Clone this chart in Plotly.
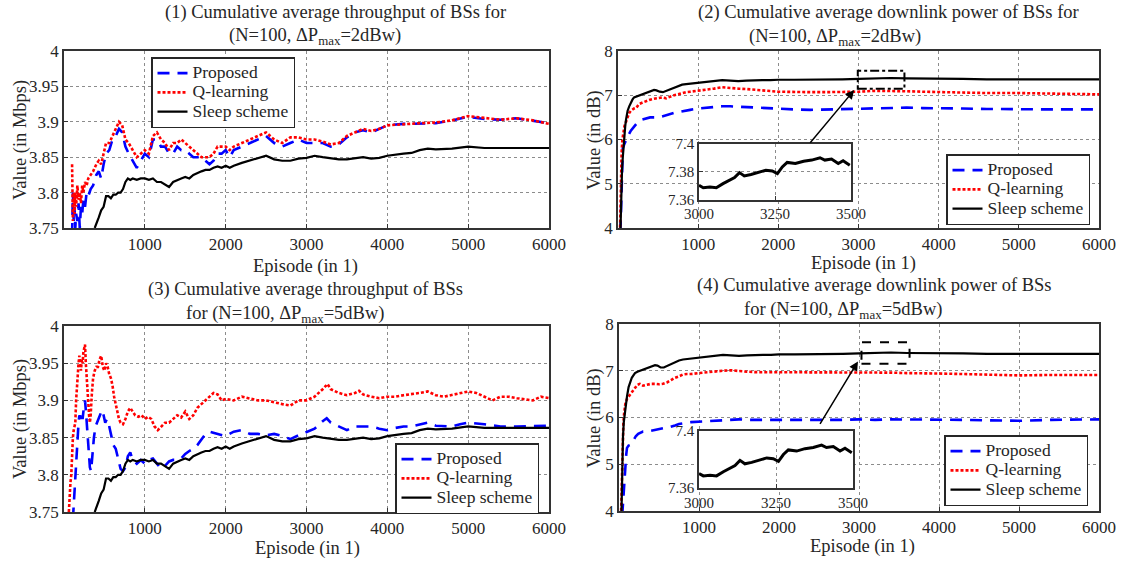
import plotly.graph_objects as go

W, H = 1127, 563

# ---------------- data ----------------
# (1) throughput, dP=2
p1_x = [100,110,120,130,140,150,165,180,195,210,225,240,260,280,300,330,360,400,430,460,490,520,560,600,640,680,720,760,800,850,900,950,1000,1050,1100,1150,1200,1250,1300,1350,1400,1450,1500,1550,1600,1650,1700,1750,1800,1850,1900,1950,2000,2050,2100,2200,2300,2400,2500,2600,2700,2800,2900,3000,3100,3200,3300,3400,3500,3600,3700,3800,3900,4000,4200,4400,4600,4800,5000,5200,5400,5600,5800,6000]
p1_prop = [3.74,3.80,3.76,3.78,3.75,3.77,3.76,3.785,3.75,3.78,3.77,3.79,3.78,3.80,3.795,3.805,3.81,3.825,3.83,3.82,3.84,3.855,3.86,3.875,3.88,3.89,3.885,3.865,3.855,3.845,3.835,3.845,3.855,3.85,3.875,3.875,3.865,3.865,3.855,3.855,3.865,3.86,3.86,3.855,3.85,3.85,3.85,3.845,3.84,3.845,3.855,3.855,3.86,3.85,3.86,3.865,3.87,3.875,3.88,3.87,3.865,3.87,3.875,3.87,3.87,3.87,3.865,3.868,3.878,3.885,3.888,3.885,3.89,3.895,3.897,3.897,3.898,3.902,3.907,3.904,3.903,3.905,3.902,3.898]
p1_qlearn = [3.84,3.76,3.80,3.77,3.80,3.78,3.81,3.79,3.80,3.785,3.81,3.80,3.815,3.81,3.82,3.825,3.83,3.84,3.845,3.84,3.855,3.87,3.87,3.88,3.89,3.90,3.895,3.875,3.87,3.86,3.85,3.855,3.86,3.855,3.88,3.885,3.875,3.87,3.86,3.87,3.87,3.875,3.87,3.865,3.86,3.855,3.85,3.85,3.85,3.855,3.865,3.865,3.865,3.86,3.865,3.87,3.875,3.88,3.885,3.875,3.87,3.878,3.878,3.875,3.875,3.872,3.868,3.87,3.88,3.885,3.89,3.887,3.89,3.895,3.897,3.898,3.899,3.902,3.908,3.905,3.903,3.905,3.902,3.897]

# sleep scheme throughput (same in (1) and (3))
sl_thr_x = [380,400,430,460,490,520,550,580,610,640,670,700,730,760,790,820,850,900,950,1000,1050,1100,1150,1200,1250,1300,1350,1400,1450,1500,1550,1600,1650,1700,1750,1800,1850,1900,1950,2000,2050,2100,2200,2300,2400,2500,2600,2700,2800,2900,3000,3100,3200,3300,3400,3500,3600,3700,3800,3900,4000,4100,4200,4300,4400,4500,4600,4800,5000,5200,5400,5600,5800,6000]
sl_thr_y = [3.75,3.755,3.765,3.775,3.78,3.795,3.795,3.792,3.797,3.797,3.80,3.80,3.805,3.815,3.82,3.818,3.82,3.818,3.82,3.82,3.818,3.82,3.815,3.815,3.812,3.808,3.815,3.818,3.82,3.822,3.82,3.825,3.828,3.83,3.832,3.832,3.835,3.837,3.835,3.838,3.835,3.838,3.842,3.845,3.848,3.852,3.847,3.845,3.845,3.848,3.849,3.852,3.85,3.848,3.847,3.847,3.848,3.85,3.848,3.849,3.852,3.854,3.855,3.856,3.86,3.862,3.861,3.862,3.865,3.863,3.863,3.863,3.863,3.863]

# (3) throughput, dP=5
p3_prop_x = [110,120,130,140,150,160,170,180,190,200,215,230,245,260,275,290,305,320,335,350,370,390,410,430,450,470,490,510,530,550,570,590,610,640,670,700,730,760,790,820,850,900,950,1000,1050,1100,1150,1200,1250,1300,1350,1400,1450,1500,1550,1600,1650,1700,1750,1800,1900,2000,2100,2200,2300,2400,2500,2600,2700,2800,2900,3000,3100,3200,3250,3300,3400,3500,3600,3700,3800,3900,4000,4100,4200,4300,4400,4500,4600,4700,4800,4900,5000,5200,5400,5600,5800,6000]
p3_prop = [3.74,3.76,3.78,3.80,3.81,3.84,3.86,3.87,3.88,3.875,3.885,3.875,3.89,3.90,3.88,3.86,3.835,3.81,3.805,3.83,3.85,3.865,3.87,3.875,3.88,3.887,3.88,3.87,3.875,3.87,3.86,3.85,3.84,3.835,3.82,3.808,3.805,3.81,3.825,3.83,3.82,3.815,3.82,3.815,3.82,3.822,3.815,3.808,3.812,3.818,3.82,3.82,3.822,3.828,3.832,3.835,3.84,3.848,3.855,3.858,3.855,3.852,3.858,3.86,3.855,3.855,3.853,3.855,3.852,3.848,3.853,3.857,3.862,3.872,3.876,3.87,3.865,3.86,3.865,3.865,3.865,3.862,3.86,3.863,3.865,3.865,3.868,3.87,3.866,3.865,3.865,3.868,3.87,3.868,3.865,3.865,3.865,3.866]
p3_q_x = [60,70,80,90,100,110,120,130,140,150,160,170,180,190,200,210,220,230,240,250,260,270,280,290,300,310,320,330,345,360,380,400,420,440,460,480,500,520,540,560,580,600,620,640,660,680,700,730,760,790,820,850,880,920,960,1000,1040,1080,1120,1160,1200,1250,1300,1350,1400,1450,1500,1550,1600,1650,1700,1750,1800,1850,1900,1950,2000,2100,2200,2300,2400,2500,2600,2700,2800,2900,3000,3100,3200,3260,3300,3400,3500,3600,3650,3700,3800,3900,4000,4100,4200,4300,4400,4500,4600,4700,4800,4900,5000,5100,5200,5300,5400,5500,5600,5700,5800,5900,6000]
p3_qlearn = [3.75,3.78,3.79,3.80,3.83,3.85,3.86,3.865,3.87,3.90,3.92,3.935,3.95,3.96,3.945,3.94,3.955,3.95,3.965,3.97,3.975,3.95,3.93,3.905,3.89,3.88,3.87,3.88,3.91,3.93,3.94,3.945,3.945,3.955,3.96,3.945,3.94,3.95,3.945,3.935,3.93,3.92,3.905,3.895,3.885,3.875,3.87,3.868,3.875,3.885,3.89,3.885,3.88,3.878,3.88,3.875,3.878,3.875,3.865,3.86,3.865,3.87,3.87,3.875,3.88,3.877,3.885,3.875,3.88,3.89,3.895,3.90,3.905,3.91,3.908,3.90,3.902,3.90,3.905,3.903,3.90,3.90,3.897,3.895,3.893,3.90,3.90,3.905,3.915,3.922,3.915,3.91,3.907,3.91,3.913,3.908,3.905,3.903,3.905,3.905,3.907,3.908,3.91,3.912,3.907,3.905,3.907,3.91,3.912,3.91,3.905,3.90,3.905,3.905,3.903,3.902,3.90,3.905,3.903]

# (2) downlink power, dP=2
p2_sl_x = [30,40,50,60,70,80,90,100,120,140,160,180,200,230,260,300,350,400,450,480,520,560,600,650,700,750,800,850,900,950,1000,1100,1200,1300,1400,1500,1600,1700,1800,1900,2000,2200,2400,2600,2800,3000,3200,3400,3600,3800,4000,4300,4600,5000,5400,5800,6000]
p2_sleep = [3.9,4.8,5.3,5.6,5.9,6.1,6.3,6.45,6.65,6.75,6.85,6.9,6.95,6.97,7.0,7.02,7.05,7.08,7.12,7.11,7.08,7.07,7.1,7.13,7.17,7.2,7.24,7.25,7.26,7.27,7.29,7.31,7.33,7.34,7.33,7.32,7.33,7.34,7.34,7.34,7.35,7.35,7.35,7.35,7.36,7.37,7.38,7.39,7.38,7.38,7.37,7.37,7.36,7.36,7.36,7.36,7.36]
p2_q_x = [25,35,45,55,65,80,100,120,140,160,180,200,230,260,300,350,400,450,500,550,600,650,700,750,800,850,900,1000,1100,1200,1300,1400,1500,1600,1700,1800,2000,2200,2400,2600,2800,3000,3200,3400,3600,3800,4000,4300,4600,5000,5400,5800,6000]
p2_qlearn = [3.9,5.0,5.7,6.0,6.15,6.3,6.4,6.5,6.6,6.65,6.68,6.7,6.72,6.8,6.83,6.87,6.9,6.92,6.93,6.95,6.93,6.97,7.0,7.02,7.05,7.07,7.08,7.1,7.12,7.15,7.18,7.16,7.15,7.14,7.13,7.11,7.08,7.07,7.07,7.07,7.07,7.08,7.1,7.1,7.09,7.08,7.07,7.06,7.05,7.05,7.04,7.03,7.02]
p2_p_x = [30,40,50,60,80,100,130,160,200,250,300,350,400,450,500,550,600,650,700,750,800,850,900,1000,1100,1200,1300,1400,1500,1600,1800,2000,2200,2400,2600,2800,3000,3200,3400,3600,3800,4000,4300,4600,5000,5400,5800,6000]
p2_prop = [3.9,4.8,5.5,5.8,5.9,6.0,6.1,6.2,6.3,6.4,6.45,6.48,6.5,6.5,6.5,6.52,6.55,6.58,6.6,6.62,6.64,6.65,6.67,6.7,6.72,6.74,6.75,6.75,6.74,6.73,6.71,6.7,6.68,6.67,6.68,6.69,6.7,6.71,6.72,6.72,6.71,6.7,6.7,6.69,6.68,6.68,6.68,6.68]

# (4) downlink power, dP=5
p4_sl_x = [30,40,50,60,70,80,90,100,120,140,160,180,200,230,260,300,350,400,450,480,520,560,600,650,700,750,800,850,900,950,1000,1100,1200,1300,1400,1500,1600,1700,1800,1900,2000,2200,2400,2600,2800,3000,3200,3400,3600,3800,4000,4300,4600,5000,5400,5800,6000]
p4_sleep = [3.9,5.0,5.6,5.9,6.05,6.15,6.3,6.45,6.65,6.75,6.85,6.9,6.95,6.98,7.0,7.03,7.06,7.08,7.12,7.11,7.07,7.07,7.1,7.14,7.18,7.22,7.24,7.25,7.26,7.27,7.29,7.31,7.33,7.34,7.33,7.32,7.33,7.34,7.34,7.34,7.35,7.35,7.35,7.35,7.36,7.37,7.38,7.39,7.38,7.38,7.37,7.37,7.36,7.36,7.36,7.36,7.36]
p4_q_x = [25,35,45,55,65,80,100,120,140,160,180,200,230,260,300,350,400,450,500,550,600,650,700,750,800,850,900,1000,1100,1200,1300,1400,1500,1600,1700,1800,2000,2200,2400,2600,2800,3000,3200,3400,3600,3800,4000,4300,4600,5000,5400,5800,6000]
p4_qlearn = [3.9,4.8,5.5,5.9,6.1,6.3,6.4,6.45,6.5,6.55,6.6,6.65,6.7,6.72,6.68,6.7,6.72,6.72,6.71,6.72,6.75,6.8,6.85,6.88,6.92,6.93,6.93,6.95,6.97,6.99,7.0,7.01,6.99,6.98,6.97,6.97,6.96,6.96,6.97,6.97,6.96,6.96,6.96,6.96,6.95,6.95,6.94,6.93,6.92,6.9,6.91,6.91,6.91]
p4_p_x = [40,50,60,70,80,90,100,120,150,180,210,240,270,300,350,400,450,500,550,600,650,700,750,800,850,900,1000,1100,1200,1300,1400,1500,1600,1800,2000,2200,2400,2600,2800,3000,3200,3400,3600,3800,4000,4300,4600,5000,5400,5800,6000]
p4_prop = [3.9,4.2,4.5,4.8,5.0,5.2,5.35,5.4,5.42,5.5,5.6,5.65,5.68,5.7,5.7,5.72,5.74,5.75,5.77,5.78,5.8,5.83,5.86,5.88,5.89,5.9,5.91,5.92,5.93,5.94,5.96,5.96,5.95,5.95,5.94,5.94,5.94,5.95,5.95,5.96,5.95,5.96,5.96,5.96,5.95,5.95,5.94,5.93,5.95,5.96,5.96]

# zoomed sleep scheme (insets)
inset_x = [3000,3014,3036,3057,3079,3101,3117,3133,3149,3171,3198,3220,3241,3258,3274,3290,3317,3344,3371,3398,3414,3436,3458,3474,3496]
inset_y = [7.3702,7.3685,7.369,7.3685,7.3714,7.3738,7.3758,7.3794,7.377,7.378,7.3799,7.3811,7.3806,7.3787,7.3835,7.3867,7.3859,7.3876,7.3884,7.3901,7.3884,7.3891,7.3859,7.3879,7.3847]

x_ticks = [1000, 2000, 3000, 4000, 5000, 6000]
thr_ticks = [3.75, 3.8, 3.85, 3.9, 3.95, 4]
thr_labels = ["3.75", "3.8", "3.85", "3.9", "3.95", "4"]
pow_ticks = [4, 5, 6, 7, 8]
inset_xticks = [3000, 3250, 3500]
names = ["Proposed", "Q-learning", "Sleep scheme"]

# ---------------- styling ----------------
FONT = "Liberation Serif"
TXT = "#262626"
BLUE, RED, BLACK = "#0000ff", "#ff0000", "#000000"
LEG_TXT = 17.5

def px(v):
    return v / W

def py(v):
    return 1 - v / H

fig = go.Figure()

def add_series(xs, ys, ax, leg, kind, show=True):
    style = {
        "p": dict(color=BLUE, width=2.6, dash="12px,8px"),
        "q": dict(color=RED, width=2.6, dash="3px,2px"),
        "s": dict(color=BLACK, width=2.2),
    }[kind]
    nm = {"p": names[0], "q": names[1], "s": names[2]}[kind]
    label = '<span style="font-size:%spx">%s</span>' % (LEG_TXT, nm)
    fig.add_trace(go.Scatter(x=xs, y=ys, mode="lines", name=label, line=style,
                             xaxis="x" + ax, yaxis="y" + ax, legend=leg,
                             showlegend=show))

# subplot 1
add_series(p1_x, p1_prop, "", "legend", "p")
add_series(p1_x, p1_qlearn, "", "legend", "q")
add_series(sl_thr_x, sl_thr_y, "", "legend", "s")
# subplot 2
add_series(p2_p_x, p2_prop, "2", "legend2", "p")
add_series(p2_q_x, p2_qlearn, "2", "legend2", "q")
add_series(p2_sl_x, p2_sleep, "2", "legend2", "s")
# subplot 3
add_series(p3_prop_x, p3_prop, "3", "legend3", "p")
add_series(p3_q_x, p3_qlearn, "3", "legend3", "q")
add_series(sl_thr_x, sl_thr_y, "3", "legend3", "s")
# subplot 4
add_series(p4_p_x, p4_prop, "4", "legend4", "p")
add_series(p4_q_x, p4_qlearn, "4", "legend4", "q")
add_series(p4_sl_x, p4_sleep, "4", "legend4", "s")
# insets
for ax in ["5", "6"]:
    fig.add_trace(go.Scatter(x=inset_x, y=inset_y, mode="lines",
                             line=dict(color=BLACK, width=3),
                             xaxis="x" + ax, yaxis="y" + ax, showlegend=False))

axis_common = dict(showline=True, mirror=True, linecolor="#333333", linewidth=1.5,
                   ticks="inside", ticklen=4, tickcolor="#333333", automargin=False,
                   showgrid=True, gridcolor="#8c8c8c", griddash="dot", gridwidth=1,
                   zeroline=False, tickfont=dict(family=FONT, size=17, color=TXT))

def xax(dom, anchor):
    return dict(axis_common, domain=dom, anchor=anchor, range=[0, 6000],
                tickvals=x_ticks)

def yax(dom, anchor, ticks, labels, rng):
    return dict(axis_common, domain=dom, anchor=anchor, range=rng,
                tickvals=ticks, ticktext=labels)

inset_common = dict(axis_common, tickfont=dict(family=FONT, size=15, color=TXT))

layout = dict(
    width=W, height=H, autosize=False,
    margin=dict(l=0, r=0, t=0, b=0, pad=0, autoexpand=False),
    paper_bgcolor="white", plot_bgcolor="white",
    font=dict(family=FONT, color=TXT),
    xaxis=xax([px(64), px(549)], "y"),
    yaxis=yax([py(228), py(51)], "x", thr_ticks, thr_labels, [3.75, 4]),
    xaxis2=xax([px(618), px(1099)], "y2"),
    yaxis2=yax([py(228), py(51)], "x2", pow_ticks, [str(t) for t in pow_ticks], [4, 8]),
    xaxis3=xax([px(64), px(549)], "y3"),
    yaxis3=yax([py(512), py(326)], "x3", thr_ticks, thr_labels, [3.75, 4]),
    xaxis4=xax([px(619), px(1099)], "y4"),
    yaxis4=yax([py(511), py(324)], "x4", pow_ticks, [str(t) for t in pow_ticks], [4, 8]),
    xaxis5=dict(inset_common, domain=[px(699), px(851)], anchor="y5", range=[3000, 3500],
                tickvals=inset_xticks),
    yaxis5=dict(inset_common, domain=[py(199.5), py(144)], anchor="x5", range=[7.36, 7.40],
                tickvals=[7.36, 7.38, 7.40], ticktext=["7.36", "7.38", "7.4"]),
    xaxis6=dict(inset_common, domain=[px(699), px(853)], anchor="y6", range=[3000, 3500],
                tickvals=inset_xticks),
    yaxis6=dict(inset_common, domain=[py(488), py(431)], anchor="x6", range=[7.36, 7.40],
                tickvals=[7.36, 7.40], ticktext=["7.36", "7.4"]),
)

leg_common = dict(bgcolor="white", bordercolor="#262626", borderwidth=1.5,
                  font=dict(family=FONT, size=12.5, color=TXT),
                  xanchor="left", yanchor="top", tracegroupgap=0, itemwidth=30)
layout["legend"] = dict(leg_common, x=px(151), y=py(57))
layout["legend2"] = dict(leg_common, x=px(946), y=py(154))
layout["legend3"] = dict(leg_common, x=px(395), y=py(443))
layout["legend4"] = dict(leg_common, x=px(944), y=py(435))

fig.update_layout(**layout)

ann = []
def text(x, y, s, size=18.5, angle=0):
    ann.append(dict(x=px(x), y=py(y), xref="paper", yref="paper", text=s,
                    showarrow=False, textangle=angle, xanchor="center", yanchor="middle",
                    font=dict(family=FONT, size=size, color=TXT)))

# titles
text(335, 12, "(1) Cumulative average throughput of BSs for")
text(315, 36, "(N=100, ΔP<sub>max</sub>=2dBw)")
text(888, 13, "(2) Cumulative average downlink power of BSs for")
text(835, 38, "(N=100, ΔP<sub>max</sub>=2dBw)")
text(305, 289, "(3) Cumulative average throughput of BSs")
text(285, 314, "for (N=100, ΔP<sub>max</sub>=5dBw)")
text(874, 285, "(4) Cumulative average downlink power of BSs")
text(843, 310, "for (N=100, ΔP<sub>max</sub>=5dBw)")
# axis titles
text(306, 266, "Episode (in 1)")
text(863, 263, "Episode (in 1)")
text(307, 548, "Episode (in 1)")
text(862, 546, "Episode (in 1)")
text(20, 140, "Value (in Mbps)", angle=-90)
text(594, 140, "Value (in dB)", angle=-90)
text(20, 419, "Value (in Mbps)", angle=-90)
text(594, 418, "Value (in dB)", angle=-90)

# arrows toward the zoomed boxes
ann.append(dict(x=2946, y=7.117, ax=2382, ay=5.894, xref="x2", yref="y2",
                axref="x2", ayref="y2", text="", showarrow=True, arrowhead=2,
                arrowsize=1.2, arrowwidth=1.5, arrowcolor="black"))
ann.append(dict(x=2987, y=7.2, ax=2502, ay=5.83, xref="x4", yref="y4",
                axref="x4", ayref="y4", text="", showarrow=True, arrowhead=2,
                arrowsize=1.2, arrowwidth=1.5, arrowcolor="black"))
fig.update_layout(annotations=ann)

fig.add_shape(type="rect", xref="x2", yref="y2", x0=2991, x1=3573, y0=7.147, y1=7.555,
              line=dict(color="black", width=2, dash="dashdot"))
fig.add_shape(type="rect", xref="x4", yref="y4", x0=3031, x1=3632, y0=7.15, y1=7.607,
              line=dict(color="black", width=2, dash="dash"))

fig.write_html("out.html")
